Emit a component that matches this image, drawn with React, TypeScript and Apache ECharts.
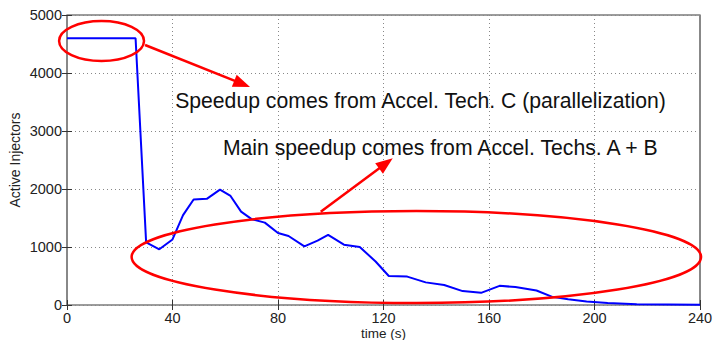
import React, { useEffect, useRef } from "react";
import * as echarts from "echarts";

const timeSec = [0, 26, 30, 35, 40, 44, 48, 53, 58, 62, 66, 70, 75, 80, 84, 90, 95, 99, 105, 111, 117, 122, 129, 136, 143, 150, 157, 164, 170, 178, 184, 190, 197, 205, 216, 240];
const activeInjectors = [4600, 4600, 1080, 960, 1130, 1550, 1820, 1830, 1990, 1880, 1610, 1480, 1420, 1240, 1190, 1010, 1110, 1210, 1040, 1000, 750, 500, 490, 390, 345, 240, 210, 330, 310, 250, 140, 100, 60, 35, 12, 5];

const xTickStep = 40;
const yTickStep = 1000;

const noteTexts = [
  "Speedup comes from Accel. Tech. C (parallelization)",
  "Main speedup comes from Accel. Techs. A + B",
];
// annotation anchors in data coordinates [time, injectors]
const noteAnchors = [
  [41, 3534],
  [59.1, 2707],
];
// ellipse bounds in data coords [xMin, xMax, yMin, yMax]
const ellipseBounds = [
  [-3.0, 29.2, 4207, 4897],
  [24.5, 240.4, 34, 1621],
];
// arrows in data coords [fromX, fromY, toX, toY]
const arrowSegments = [
  [29.6, 4483, 69.4, 3759],
  [96.2, 1609, 123.5, 2529],
];

const FONT = "'Liberation Sans', Arial, Helvetica, sans-serif";

export default function App() {
  const ref = useRef<HTMLDivElement>(null);
  useEffect(() => {
    if (!ref.current) return;
    const chart = echarts.init(ref.current, null, { renderer: "svg" });
    const tick = { show: true, inside: true, length: 5, lineStyle: { color: "#333", width: 1 } };
    const plain = (v: number) => String(v);
    chart.setOption({
      animation: false,
      textStyle: { fontFamily: FONT },
      grid: {
        left: 67, right: 13, top: 15, bottom: 35, containLabel: false, outerBoundsMode: "none",
        show: true, borderColor: "#3a3a3a", borderWidth: 1.2, backgroundColor: "#fff",
      },
      xAxis: [
        {
          type: "value", min: 0, max: 240, interval: xTickStep,
          axisLine: { show: false }, axisTick: tick,
          axisLabel: { fontSize: 14.5, color: "#222", margin: 5, fontFamily: FONT, formatter: plain },
          splitLine: { show: true, lineStyle: { type: [1, 3], color: "#888", width: 1 } },
          name: "time (s)", nameLocation: "middle", nameGap: 21.5, nameMoveOverlap: false,
          nameTextStyle: { fontSize: 13.5, color: "#222", fontFamily: FONT },
        },
        {
          type: "value", position: "top", min: 0, max: 240, interval: xTickStep,
          axisLine: { show: false }, axisTick: tick, axisLabel: { show: false }, splitLine: { show: false },
        },
      ],
      yAxis: [
        {
          type: "value", min: 0, max: 5000, interval: yTickStep,
          axisLine: { show: false }, axisTick: tick,
          axisLabel: { fontSize: 14.5, color: "#222", margin: 5, fontFamily: FONT, formatter: plain },
          splitLine: { show: true, lineStyle: { type: [1, 3], color: "#888", width: 1 } },
          name: "Active Injectors", nameLocation: "middle", nameGap: 45, nameMoveOverlap: false,
          nameTextStyle: { fontSize: 14, color: "#222", fontFamily: FONT },
        },
        {
          type: "value", position: "right", min: 0, max: 5000, interval: yTickStep,
          axisLine: { show: false }, axisTick: tick, axisLabel: { show: false }, splitLine: { show: false },
        },
      ],
      series: [
        {
          type: "line",
          data: timeSec.map((t, i) => [t, activeInjectors[i]]),
          showSymbol: false,
          lineStyle: { color: "#0000ff", width: 2 },
          itemStyle: { color: "#0000ff" },
        },
      ],
    });

    const px = (p: number[]) => chart.convertToPixel({ gridIndex: 0 }, p) as number[];
    const graphics: any[] = [];
    ellipseBounds.forEach(([x0, x1, y0, y1]) => {
      const a = px([x0, y1]);
      const b = px([x1, y0]);
      graphics.push({
        type: "ellipse",
        shape: { cx: (a[0] + b[0]) / 2, cy: (a[1] + b[1]) / 2, rx: Math.abs(b[0] - a[0]) / 2, ry: Math.abs(b[1] - a[1]) / 2 },
        style: { fill: "none", stroke: "#ff0000", lineWidth: 2.5 },
        z: 100,
      });
    });
    arrowSegments.forEach(([fx, fy, tx, ty]) => {
      const f = px([fx, fy]);
      const t = px([tx, ty]);
      const dx = t[0] - f[0], dy = t[1] - f[1];
      const len = Math.hypot(dx, dy);
      const ux = dx / len, uy = dy / len;
      const L = 17, W = 6.5;
      const bx = t[0] - ux * L, by = t[1] - uy * L;
      graphics.push({
        type: "line",
        shape: { x1: f[0], y1: f[1], x2: bx + ux * 2, y2: by + uy * 2 },
        style: { stroke: "#ff0000", lineWidth: 2.5 },
        z: 100,
      });
      graphics.push({
        type: "polygon",
        shape: { points: [[t[0], t[1]], [bx - uy * W, by + ux * W], [bx + uy * W, by - ux * W]] },
        style: { fill: "#ff0000" },
        z: 100,
      });
    });
    noteTexts.forEach((s, i) => {
      const p = px(noteAnchors[i]);
      graphics.push({
        type: "text",
        x: p[0], y: p[1],
        style: { text: s, fontSize: 21.2, fontFamily: FONT, fill: "#111", verticalAlign: "middle", align: "left" },
        z: 101,
      });
    });
    chart.setOption({ graphic: graphics });
    return () => chart.dispose();
  }, []);
  return <div ref={ref} style={{ position: "fixed", left: 0, top: 0, width: 713, height: 340, background: "#fff" }} />;
}
